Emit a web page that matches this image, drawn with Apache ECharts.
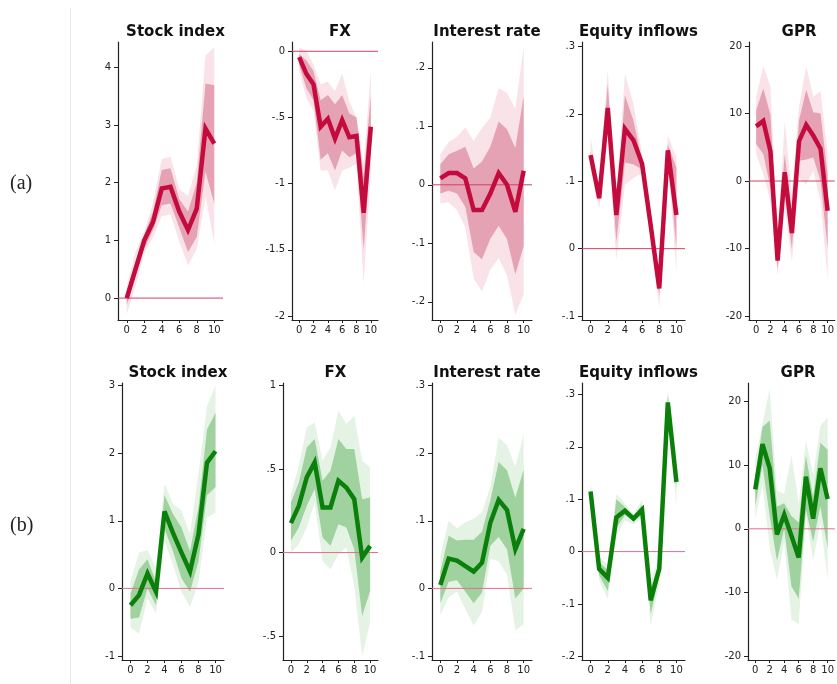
<!DOCTYPE html>
<html>
<head>
<meta charset="utf-8">
<script src="https://cdn.jsdelivr.net/npm/echarts@6/dist/echarts.min.js"></script>
<style>
  html, body { margin: 0; padding: 0; background: #ffffff; }
  #chart { width: 837px; height: 684px; }
</style>
</head>
<body>
<div id="chart"></div>
<script>
// Impulse responses over horizons 0..10, with 68% and 90% bands.
const horizons = [0, 1, 2, 3, 4, 5, 6, 7, 8, 9, 10];
const xTicks = [0, 2, 4, 6, 8, 10];
const panelTitles = ['Stock index', 'FX', 'Interest rate', 'Equity inflows', 'GPR'];
const rowLabels = ['(a)', '(b)'];

// ---- Row (a) ----
const stockA      = [0.0, 0.5, 1.0, 1.32, 1.9, 1.93, 1.5, 1.18, 1.55, 2.94, 2.68];
const stockA_lo68 = [-0.12, 0.38, 0.86, 1.18, 1.61, 1.64, 1.22, 0.8, 1.06, 2.19, 1.64];
const stockA_hi68 = [0.11, 0.62, 1.09, 1.5, 2.22, 2.25, 1.72, 1.5, 2.0, 3.72, 3.69];
const stockA_lo90 = [-0.28, 0.2, 0.78, 1.05, 1.42, 1.45, 0.98, 0.57, 0.85, 1.76, 0.95];
const stockA_hi90 = [0.2, 0.8, 1.15, 1.65, 2.41, 2.45, 1.89, 1.77, 2.3, 4.2, 4.35];

const fxA      = [-0.045, -0.17, -0.25, -0.57, -0.51, -0.66, -0.52, -0.65, -0.64, -1.22, -0.57];
const fxA_lo68 = [-0.1, -0.28, -0.37, -0.82, -0.77, -0.9, -0.75, -0.8, -0.77, -1.5, -0.72];
const fxA_hi68 = [-0.02, -0.07, -0.15, -0.37, -0.33, -0.4, -0.33, -0.47, -0.5, -0.95, -0.33];
const fxA_lo90 = [-0.15, -0.35, -0.45, -0.9, -0.9, -1.05, -0.9, -0.88, -0.85, -1.75, -0.9];
const fxA_hi90 = [0.03, 0.0, -0.1, -0.25, -0.23, -0.3, -0.17, -0.38, -0.5, -0.85, -0.15];

const rateA      = [0.011, 0.02, 0.02, 0.011, -0.043, -0.043, -0.015, 0.02, 0.0, -0.046, 0.024];
const rateA_lo68 = [-0.015, -0.01, -0.015, -0.038, -0.115, -0.127, -0.092, -0.07, -0.093, -0.153, -0.105];
const rateA_hi68 = [0.035, 0.052, 0.058, 0.065, 0.028, 0.04, 0.065, 0.108, 0.095, 0.063, 0.152];
const rateA_lo90 = [-0.032, -0.03, -0.043, -0.073, -0.16, -0.182, -0.145, -0.125, -0.155, -0.222, -0.187];
const rateA_hi90 = [0.052, 0.073, 0.082, 0.098, 0.075, 0.097, 0.115, 0.165, 0.157, 0.13, 0.235];

const equityA      = [0.139, 0.075, 0.209, 0.05, 0.178, 0.161, 0.126, 0.035, -0.059, 0.146, 0.05];
const equityA_lo68 = [0.133, 0.07, 0.185, 0.01, 0.128, 0.125, 0.118, 0.03, -0.07, 0.14, 0.0];
const equityA_hi68 = [0.145, 0.08, 0.245, 0.06, 0.228, 0.19, 0.13, 0.04, -0.05, 0.155, 0.12];
const equityA_lo90 = [0.12, 0.059, 0.17, -0.017, 0.095, 0.105, 0.112, 0.025, -0.088, 0.135, -0.035];
const equityA_hi90 = [0.165, 0.09, 0.265, 0.075, 0.26, 0.215, 0.14, 0.045, -0.045, 0.168, 0.135];

const gprA      = [8.1, 8.9, 4.4, -11.8, 1.3, -7.7, 5.9, 8.3, 6.7, 4.8, -4.4];
const gprA_lo68 = [5.5, 4.0, -1.0, -13.0, -2.0, -10.0, 3.0, 3.2, 3.5, 0.0, -10.0];
const gprA_hi68 = [10.5, 13.7, 9.8, -9.5, 4.0, -5.0, 9.0, 13.5, 10.2, 10.0, 1.0];
const gprA_lo90 = [4.0, 1.0, -3.0, -14.0, -4.0, -12.0, 0.5, -0.5, 1.5, -3.0, -14.5];
const gprA_hi90 = [12.5, 17.0, 14.0, -8.0, 8.8, -2.0, 11.0, 17.0, 12.5, 13.3, 4.0];

// ---- Row (b) ----
const stockB      = [-0.25, -0.1, 0.22, -0.05, 1.14, 0.82, 0.53, 0.25, 0.8, 1.86, 2.03];
const stockB_lo68 = [-0.45, -0.43, 0.0, -0.25, 0.88, 0.55, 0.15, -0.05, 0.4, 1.38, 1.5];
const stockB_hi68 = [-0.08, 0.28, 0.43, 0.1, 1.38, 1.1, 0.9, 0.55, 1.2, 2.35, 2.6];
const stockB_lo90 = [-0.58, -0.67, -0.15, -0.37, 0.7, 0.35, -0.05, -0.28, 0.1, 1.05, 1.12];
const stockB_hi90 = [0.1, 0.53, 0.57, 0.3, 1.55, 1.25, 1.15, 0.8, 1.7, 2.7, 3.0];

const fxB      = [0.176, 0.28, 0.45, 0.54, 0.27, 0.27, 0.43, 0.39, 0.32, -0.03, 0.04];
const fxB_lo68 = [0.07, 0.15, 0.28, 0.38, 0.09, 0.04, 0.17, 0.15, 0.02, -0.38, -0.23];
const fxB_hi68 = [0.3, 0.42, 0.63, 0.68, 0.43, 0.49, 0.68, 0.62, 0.62, 0.32, 0.33];
const fxB_lo90 = [0.0, 0.05, 0.15, 0.3, -0.05, -0.1, -0.01, 0.03, -0.2, -0.62, -0.42];
const fxB_hi90 = [0.35, 0.52, 0.75, 0.78, 0.55, 0.63, 0.85, 0.77, 0.82, 0.55, 0.51];

const rateB      = [0.005, 0.044, 0.041, 0.033, 0.025, 0.038, 0.097, 0.131, 0.116, 0.058, 0.088];
const rateB_lo68 = [-0.022, 0.01, 0.012, -0.005, -0.022, -0.006, 0.063, 0.076, 0.058, -0.015, 0.0];
const rateB_hi68 = [0.025, 0.078, 0.071, 0.072, 0.072, 0.084, 0.13, 0.187, 0.175, 0.134, 0.176];
const rateB_lo90 = [-0.04, -0.013, -0.005, -0.03, -0.055, -0.035, 0.044, 0.04, 0.02, -0.062, -0.053];
const rateB_hi90 = [0.048, 0.1, 0.089, 0.098, 0.103, 0.113, 0.15, 0.223, 0.212, 0.18, 0.228];

const equityB      = [0.115, -0.033, -0.05, 0.065, 0.078, 0.063, 0.08, -0.093, -0.033, 0.285, 0.133];
const equityB_lo68 = [0.11, -0.045, -0.075, 0.045, 0.07, 0.058, 0.07, -0.12, -0.045, 0.27, 0.12];
const equityB_hi68 = [0.12, -0.02, -0.035, 0.1, 0.085, 0.068, 0.09, -0.07, -0.02, 0.3, 0.14];
const equityB_lo90 = [0.1, -0.055, -0.09, 0.03, 0.06, 0.052, 0.065, -0.142, -0.06, 0.26, 0.085];
const equityB_hi90 = [0.135, -0.01, -0.025, 0.11, 0.092, 0.072, 0.098, -0.055, -0.01, 0.31, 0.15];

const gprB      = [6.2, 13.3, 9.5, -0.9, 2.2, -1.1, -4.5, 8.2, 1.6, 9.5, 4.7];
const gprB_lo68 = [3.5, 10.0, 2.0, -5.0, 0.0, -9.0, -11.0, 3.0, -2.0, 3.5, -3.0];
const gprB_hi68 = [8.0, 16.0, 17.0, 3.5, 4.0, 2.0, 1.0, 11.5, 5.0, 13.5, 12.4];
const gprB_lo90 = [1.5, 7.0, -3.0, -8.0, -2.0, -14.2, -15.0, 2.0, -5.0, 1.0, -8.0];
const gprB_hi90 = [11.0, 16.5, 22.0, 6.0, 5.5, 11.5, 4.0, 13.8, 8.5, 16.2, 17.5];

// y-axis tick values of each panel
const yTicksA = [[0, 1, 2, 3, 4], [-2, -1.5, -1, -0.5, 0], [-0.2, -0.1, 0, 0.1, 0.2], [-0.1, 0, 0.1, 0.2, 0.3], [-20, -10, 0, 10, 20]];
const yTicksB = [[-1, 0, 1, 2, 3], [-0.5, 0, 0.5, 1], [-0.1, 0, 0.1, 0.2, 0.3], [-0.2, -0.1, 0, 0.1, 0.2, 0.3], [-20, -10, 0, 10, 20]];

// ---- assembling ----
const rows = [
  {
    tag: 'a', ticks: yTicksA,
    lines: [stockA, fxA, rateA, equityA, gprA],
    lo68: [stockA_lo68, fxA_lo68, rateA_lo68, equityA_lo68, gprA_lo68],
    hi68: [stockA_hi68, fxA_hi68, rateA_hi68, equityA_hi68, gprA_hi68],
    lo90: [stockA_lo90, fxA_lo90, rateA_lo90, equityA_lo90, gprA_lo90],
    hi90: [stockA_hi90, fxA_hi90, rateA_hi90, equityA_hi90, gprA_hi90]
  },
  {
    tag: 'b', ticks: yTicksB,
    lines: [stockB, fxB, rateB, equityB, gprB],
    lo68: [stockB_lo68, fxB_lo68, rateB_lo68, equityB_lo68, gprB_lo68],
    hi68: [stockB_hi68, fxB_hi68, rateB_hi68, equityB_hi68, gprB_hi68],
    lo90: [stockB_lo90, fxB_lo90, rateB_lo90, equityB_lo90, gprB_lo90],
    hi90: [stockB_hi90, fxB_hi90, rateB_hi90, equityB_hi90, gprB_hi90]
  }
];

// plot-region layout (pixels) and axis extents per panel
const layout = {
  a: { top: 42, height: 278,
       left: [118, 292, 432, 582, 749], width: [105, 86, 100, 103, 90],
       yMin: [-0.38, -2.03, -0.231, -0.106, -20.6], yMax: [4.44, 0.07, 0.244, 0.307, 20.6] },
  b: { top: 383, height: 277,
       left: [122, 283, 432, 582, 748], width: [102, 95, 100, 103, 90],
       yMin: [-1.06, -0.644, -0.106, -0.207, -20.6], yMax: [3.04, 1.016, 0.304, 0.322, 22.9] }
};

const palette = {
  a: { line: '#c40b3d', inner: '#e6a2b5', outer: '#f9e2e8', zero: '#d43f65' },
  b: { line: '#0a800a', inner: '#a0d2a0', outer: '#e4f3e4', zero: '#e2708c' }
};

const axisColor = '#222222';
const fontTick = 'DejaVu Sans';

function stataLabel(v) {
  const s = String(Math.round(v * 1000) / 1000);
  return s.replace(/^(-?)0\./, '$1.');
}

// One closed polygon per band: upper edge left to right, lower edge back.
function bandRenderer(color) {
  return function (params, api) {
    if (params.dataIndexInside !== 0) return null;
    const n = params.dataInsideLength;
    const upper = [], lower = [];
    for (let i = 0; i < n; i++) {
      const h = api.value(0, i);
      upper.push(api.coord([h, api.value(2, i)]));
      lower.push(api.coord([h, api.value(1, i)]));
    }
    return {
      type: 'polygon',
      shape: { points: upper.concat(lower.reverse()) },
      style: { fill: color, stroke: null }
    };
  };
}

const grids = [], xAxes = [], yAxes = [], series = [], titles = [];

rows.forEach(function (row) {
  const L = layout[row.tag];
  const P = palette[row.tag];
  for (let p = 0; p < 5; p++) {
    const idx = grids.length;
    grids.push({ left: L.left[p], top: L.top, width: L.width[p], height: L.height, containLabel: false });
    xAxes.push({
      type: 'value', gridIndex: idx, min: -1, max: 11,
      splitLine: { show: false },
      axisLine: { show: true, onZero: false, lineStyle: { color: axisColor, width: 1.2 } },
      axisTick: { show: true, length: 3, customValues: xTicks, lineStyle: { color: axisColor } },
      axisLabel: { customValues: xTicks, margin: 5, fontSize: 10, fontFamily: fontTick, color: '#222' }
    });
    yAxes.push({
      type: 'value', gridIndex: idx, min: L.yMin[p], max: L.yMax[p],
      splitLine: { show: false },
      axisLine: { show: true, onZero: false, lineStyle: { color: axisColor, width: 1.2 } },
      axisTick: { show: true, length: 4, customValues: row.ticks[p], lineStyle: { color: axisColor } },
      axisLabel: { customValues: row.ticks[p], margin: 7, fontSize: 10, fontFamily: fontTick, color: '#222',
                   formatter: stataLabel }
    });

    const bands = [
      { lo: row.lo90[p], hi: row.hi90[p], color: P.outer },
      { lo: row.lo68[p], hi: row.hi68[p], color: P.inner }
    ];
    bands.forEach(function (b, k) {
      series.push({
        type: 'custom', xAxisIndex: idx, yAxisIndex: idx,
        data: horizons.map(function (h, i) { return [h, b.lo[i], b.hi[i]]; }),
        encode: { x: 0, y: [1, 2] },
        renderItem: bandRenderer(b.color),
        clip: false, silent: true, z: 1 + k * 0.1
      });
    });

    // zero reference line
    series.push({
      type: 'line', xAxisIndex: idx, yAxisIndex: idx,
      data: [[-1, 0], [11, 0]], symbol: 'none',
      lineStyle: { color: P.zero, width: 1 }, silent: true, z: 2
    });

    // point estimate
    series.push({
      type: 'line', xAxisIndex: idx, yAxisIndex: idx,
      data: horizons.map(function (h, i) { return [h, row.lines[p][i]]; }),
      symbol: 'none', lineStyle: { color: P.line, width: 4.5, join: 'miter', miterLimit: 4 },
      silent: true, z: 3
    });

    titles.push({
      text: panelTitles[p],
      left: L.left[p] + L.width[p] / 2, top: L.top - 22, textAlign: 'center',
      textStyle: { fontFamily: 'DejaVu Sans', fontWeight: 'bold', fontSize: 15, color: '#111' }
    });
  }
});

const chart = echarts.init(document.getElementById('chart'), null, { renderer: 'canvas' });
chart.setOption({
  animation: false,
  backgroundColor: '#ffffff',
  title: titles,
  grid: grids,
  xAxis: xAxes,
  yAxis: yAxes,
  series: series,
  graphic: [
    { type: 'line', shape: { x1: 70.5, y1: 8, x2: 70.5, y2: 684 }, style: { stroke: '#e6e9ec', lineWidth: 1 } },
    { type: 'text', left: 10, top: 174, style: { text: rowLabels[0], font: '20px "Liberation Serif"', fill: '#222' } },
    { type: 'text', left: 10, top: 516, style: { text: rowLabels[1], font: '20px "Liberation Serif"', fill: '#222' } }
  ]
});
</script>
</body>
</html>
